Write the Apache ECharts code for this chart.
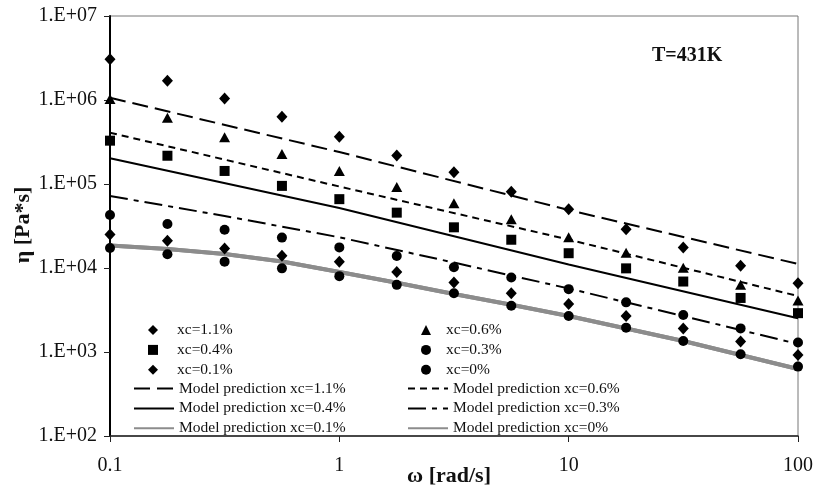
<!DOCTYPE html>
<html>
<head>
<meta charset="utf-8">
<script src="https://cdn.jsdelivr.net/npm/echarts@6/dist/echarts.min.js"></script>
<style>
  html, body { margin: 0; padding: 0; background: #fff; }
  #chart { width: 816px; height: 488px; }
</style>
</head>
<body>
<div id="chart"></div>
<script>
// Angular frequency (rad/s), measured points
const omega = [0.1, 0.178, 0.316, 0.562, 1, 1.78, 3.16, 5.62, 10, 17.8, 31.6, 56.2, 100];

// Measured complex viscosity (Pa*s) per filler content
const eta11 = [3.05e6, 1.70e6, 1.04e6, 6.3e5, 3.66e5, 2.19e5, 1.38e5, 8.1e4, 5.0e4, 2.89e4, 1.76e4, 1.06e4, 6.6e3];
const eta06 = [1.03e6, 6.15e5, 3.6e5, 2.28e5, 1.43e5, 9.2e4, 5.9e4, 3.8e4, 2.32e4, 1.52e4, 1.01e4, 6.3e3, 4.1e3];
const eta04 = [3.28e5, 2.17e5, 1.43e5, 9.5e4, 6.6e4, 4.56e4, 3.05e4, 2.17e4, 1.5e4, 9.9e3, 6.9e3, 4.4e3, 2.9e3];
const eta03 = [4.27e4, 3.34e4, 2.86e4, 2.3e4, 1.76e4, 1.39e4, 1.02e4, 7.7e3, 5.6e3, 3.9e3, 2.76e3, 1.91e3, 1.3e3];
const eta01 = [2.5e4, 2.11e4, 1.71e4, 1.4e4, 1.19e4, 8.96e3, 6.7e3, 5.0e3, 3.73e3, 2.68e3, 1.9e3, 1.33e3, 9.2e2];
const eta00 = [1.73e4, 1.46e4, 1.19e4, 9.9e3, 8.0e3, 6.3e3, 5.0e3, 3.56e3, 2.68e3, 1.95e3, 1.35e3, 9.4e2, 6.7e2];

// Model predictions
const modelFreqDecade = [0.1, 1, 10, 100];
const modelFreqHalf = [0.1, 0.316, 1, 3.16, 10, 31.6, 100];
const model11 = [1.064e6, 2.40e5, 4.90e4, 1.117e4];
const model06 = [4.08e5, 9.33e4, 2.18e4, 4.64e3];
const model04 = [2.02e5, 5.18e4, 1.10e4, 2.52e3];
const model03 = [7.2e4, 4.16e4, 2.32e4, 1.16e4, 5.7e3, 2.68e3, 1.245e3];
const model00 = [18540, 16830, 14680, 11940, 8960, 6680, 4900, 3660, 2680, 1905, 1352, 920, 628];

// Axis range
const xMin = 0.1, xMax = 100;
const yMin = 1e2, yMax = 1e7;

// Legend entries, two columns
const legendMarkersLeft = ['xc=1.1%', 'xc=0.4%', 'xc=0.1%'];
const legendLinesLeft = ['Model prediction xc=1.1%', 'Model prediction xc=0.4%', 'Model prediction xc=0.1%'];
const legendMarkersRight = ['xc=0.6%', 'xc=0.3%', 'xc=0%'];
const legendLinesRight = ['Model prediction xc=0.6%', 'Model prediction xc=0.3%', 'Model prediction xc=0%'];

const SERIF = '"Liberation Serif", "Times New Roman", serif';
const pair = (xs, ys) => xs.map((x, i) => [x, ys[i]]);

function scatter(name, symbol, size, ys) {
  return {
    name, type: 'scatter', symbol, symbolSize: size,
    itemStyle: { color: '#000', opacity: 1 },
    data: pair(omega, ys), z: 5
  };
}
function model(name, xs, ys, lineStyle) {
  return {
    name, type: 'line', symbol: 'none', smooth: false,
    lineStyle: Object.assign({ color: '#000', width: 2 }, lineStyle),
    itemStyle: { color: lineStyle.color || '#000' },
    data: pair(xs, ys), z: 3
  };
}

const chart = echarts.init(document.getElementById('chart'), null, { renderer: 'canvas' });

const legendText = { fontFamily: SERIF, fontSize: 15.5, color: '#111', lineHeight: 15 };

function markerLegend(left, top, names, textPad) {
  return {
    orient: 'vertical', left, top, padding: 0,
    itemWidth: 10, itemHeight: 10, itemGap: 3.9,
    selectedMode: false, symbolKeepAspect: true,
    textStyle: Object.assign({ padding: [0, 0, 0, textPad] }, legendText),
    data: names
  };
}
function lineLegend(left, top, names) {
  return {
    orient: 'vertical', left, top, padding: 0,
    itemWidth: 40, itemHeight: 10, itemGap: 3.9,
    selectedMode: false,
    textStyle: legendText,
    data: names.map(n => ({ name: n, itemStyle: { opacity: 0, color: 'rgba(0,0,0,0)', borderWidth: 0 } }))
  };
}

chart.setOption({
  animation: false,
  backgroundColor: '#fff',
  grid: {
    left: 110, right: 16, top: 16, bottom: 52,
    show: true, borderColor: '#777', borderWidth: 1
  },
  xAxis: {
    type: 'log', logBase: 10, min: xMin, max: xMax,
    axisLine: { show: true, lineStyle: { color: '#222', width: 1.5 } },
    axisTick: { show: true, length: 6, inside: false, lineStyle: { color: '#222', width: 1 } },
    minorTick: { show: false },
    splitLine: { show: false },
    axisLabel: {
      fontFamily: SERIF, fontSize: 20, color: '#111', margin: 20,
      formatter: v => String(+Number(v).toPrecision(3))
    }
  },
  yAxis: {
    type: 'log', logBase: 10, min: yMin, max: yMax,
    axisLine: { show: true, lineStyle: { color: '#000', width: 2 } },
    axisTick: { show: true, length: 6, inside: false, lineStyle: { color: '#222', width: 1 } },
    splitLine: { show: false },
    axisLabel: {
      fontFamily: SERIF, fontSize: 20, color: '#111', margin: 13,
      formatter: v => '1.E+' + String(Math.round(Math.log10(v))).padStart(2, '0')
    }
  },
  legend: [
    markerLegend(148, 322, legendMarkersLeft, 14),
    lineLegend(133, 380.5, legendLinesLeft),
    markerLegend(421, 322, legendMarkersRight, 10),
    lineLegend(407, 380.5, legendLinesRight)
  ],
  graphic: [
    {
      type: 'text', left: 652, top: 46,
      style: { text: 'T=431K', font: 'bold 20px ' + SERIF, fill: '#111' }
    },
    {
      type: 'text', x: 449, y: 476,
      style: { text: 'ω [rad/s]', font: 'bold 22px ' + SERIF, fill: '#111',
               align: 'center', verticalAlign: 'middle' }
    },
    {
      type: 'text', x: 23, y: 225, rotation: Math.PI / 2,
      style: { text: 'η [Pa*s]', font: 'bold 22px ' + SERIF, fill: '#111',
               align: 'center', verticalAlign: 'middle' }
    }
  ],
  series: [
    model('Model prediction xc=1.1%', modelFreqDecade, model11, { type: [16, 7], width: 2 }),
    model('Model prediction xc=0.6%', modelFreqDecade, model06, { type: [7, 5], width: 2 }),
    model('Model prediction xc=0.4%', modelFreqDecade, model04, { type: 'solid', width: 2 }),
    model('Model prediction xc=0.3%', modelFreqHalf, model03, { type: [18, 6, 5, 6], width: 2 }),
    model('Model prediction xc=0.1%', omega, model00, { type: 'solid', width: 4, color: '#8c8c8c' }),
    model('Model prediction xc=0%', omega, model00, { type: 'solid', width: 4, color: '#8c8c8c' }),
    scatter('xc=1.1%', 'diamond', [11, 12], eta11),
    scatter('xc=0.6%', 'triangle', [11, 10], eta06),
    scatter('xc=0.4%', 'rect', 10, eta04),
    scatter('xc=0.3%', 'circle', 10, eta03),
    scatter('xc=0.1%', 'diamond', [11, 12], eta01),
    scatter('xc=0%', 'circle', 10, eta00)
  ]
});
</script>
</body>
</html>
